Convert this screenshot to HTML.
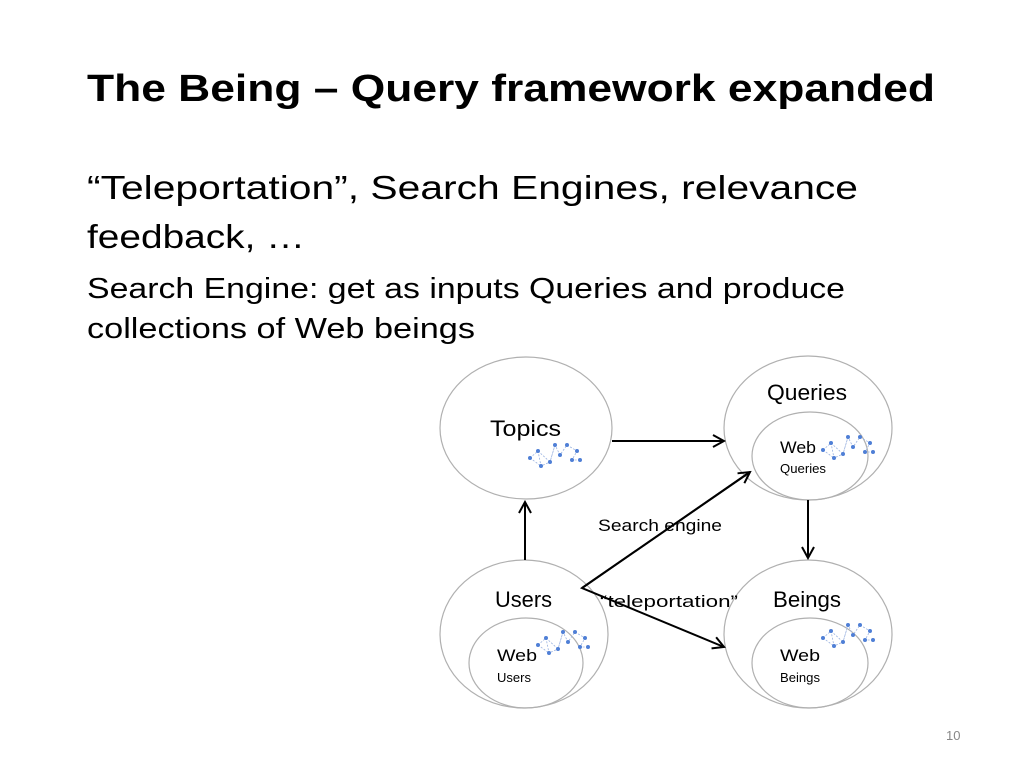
<!DOCTYPE html>
<html><head><meta charset="utf-8"><style>
html,body{margin:0;padding:0;background:#fff;}
svg{display:block;}
text{font-family:"Liberation Sans",sans-serif;fill:#000;}
</style></head><body>
<svg width="1024" height="768" viewBox="0 0 1024 768" xmlns="http://www.w3.org/2000/svg">
<defs>
<marker id="ah" markerWidth="14" markerHeight="14" refX="12" refY="7" orient="auto" markerUnits="userSpaceOnUse">
<path d="M1,1 L12,7 L1,13" fill="none" stroke="#000" stroke-width="2"/>
</marker>
<g id="net">
<g stroke="#9bb3e0" stroke-width="0.8" stroke-dasharray="2,1.5" fill="none">
<path d="M5,20 L13,13 L16,28 L25,24 L30,7 L35,17 L42,7 L52,13 L47,22 L55,22 M13,13 L25,24 M5,20 L16,28 M30,7 L25,24"/>
</g>
<g fill="#4f7fd6">
<circle cx="5" cy="20" r="2"/><circle cx="13" cy="13" r="2"/><circle cx="16" cy="28" r="2"/><circle cx="25" cy="24" r="2"/><circle cx="30" cy="7" r="2"/><circle cx="35" cy="17" r="2"/><circle cx="42" cy="7" r="2"/><circle cx="52" cy="13" r="2"/><circle cx="47" cy="22" r="2"/><circle cx="55" cy="22" r="2"/>
</g>
</g>
</defs>

<text x="87" y="101" font-size="38" font-weight="bold" textLength="848" lengthAdjust="spacingAndGlyphs">The Being – Query framework expanded</text>
<text x="87" y="199" font-size="33" textLength="771" lengthAdjust="spacingAndGlyphs">“Teleportation”, Search Engines, relevance</text>
<text x="87" y="248" font-size="33" textLength="218" lengthAdjust="spacingAndGlyphs">feedback, …</text>
<text x="87" y="298" font-size="29" textLength="758" lengthAdjust="spacingAndGlyphs">Search Engine: get as inputs Queries and produce</text>
<text x="87" y="338" font-size="29" textLength="388" lengthAdjust="spacingAndGlyphs">collections of Web beings</text>

<g fill="none" stroke="#b0b0b0" stroke-width="1.2">
<ellipse cx="526" cy="428" rx="86" ry="71"/>
<ellipse cx="808" cy="428" rx="84" ry="72"/>
<ellipse cx="524" cy="634" rx="84" ry="74"/>
<ellipse cx="808" cy="634" rx="84" ry="74"/>
<ellipse cx="810" cy="456" rx="58" ry="44"/>
<ellipse cx="526" cy="663" rx="57" ry="45"/>
<ellipse cx="810" cy="663" rx="58" ry="45"/>
</g>

<use href="#net" x="525" y="438"/>
<use href="#net" x="818" y="430"/>
<use href="#net" x="533" y="625"/>
<use href="#net" x="818" y="618"/>

<g stroke="#000" stroke-width="2" fill="none">
<line x1="612" y1="441" x2="724" y2="441" marker-end="url(#ah)"/>
<line x1="525" y1="560" x2="525" y2="502" marker-end="url(#ah)"/>
<line x1="808" y1="500" x2="808" y2="558" marker-end="url(#ah)"/>
<polyline points="750,472 582,588 724,647" marker-end="url(#ah)"/>
<path d="M582,588 L750,472" marker-end="url(#ah)"/>
</g>

<text x="490" y="436" font-size="22" textLength="71" lengthAdjust="spacingAndGlyphs">Topics</text>
<text x="767" y="400" font-size="22" textLength="80" lengthAdjust="spacingAndGlyphs">Queries</text>
<text x="780" y="453" font-size="17" textLength="36" lengthAdjust="spacingAndGlyphs">Web</text>
<text x="780" y="473" font-size="13" textLength="46" lengthAdjust="spacingAndGlyphs">Queries</text>
<text x="495" y="607" font-size="22" textLength="57" lengthAdjust="spacingAndGlyphs">Users</text>
<text x="773" y="607" font-size="22" textLength="68" lengthAdjust="spacingAndGlyphs">Beings</text>
<text x="497" y="661" font-size="17" textLength="40" lengthAdjust="spacingAndGlyphs">Web</text>
<text x="497" y="682" font-size="13" textLength="34" lengthAdjust="spacingAndGlyphs">Users</text>
<text x="780" y="661" font-size="17" textLength="40" lengthAdjust="spacingAndGlyphs">Web</text>
<text x="780" y="682" font-size="13" textLength="40" lengthAdjust="spacingAndGlyphs">Beings</text>
<text x="598" y="531" font-size="17" textLength="124" lengthAdjust="spacingAndGlyphs">Search engine</text>
<text x="600" y="607" font-size="17" textLength="138" lengthAdjust="spacingAndGlyphs">“teleportation”</text>
<text x="946" y="740" font-size="13" fill="#888" style="fill:#888">10</text>
</svg>
</body></html>
